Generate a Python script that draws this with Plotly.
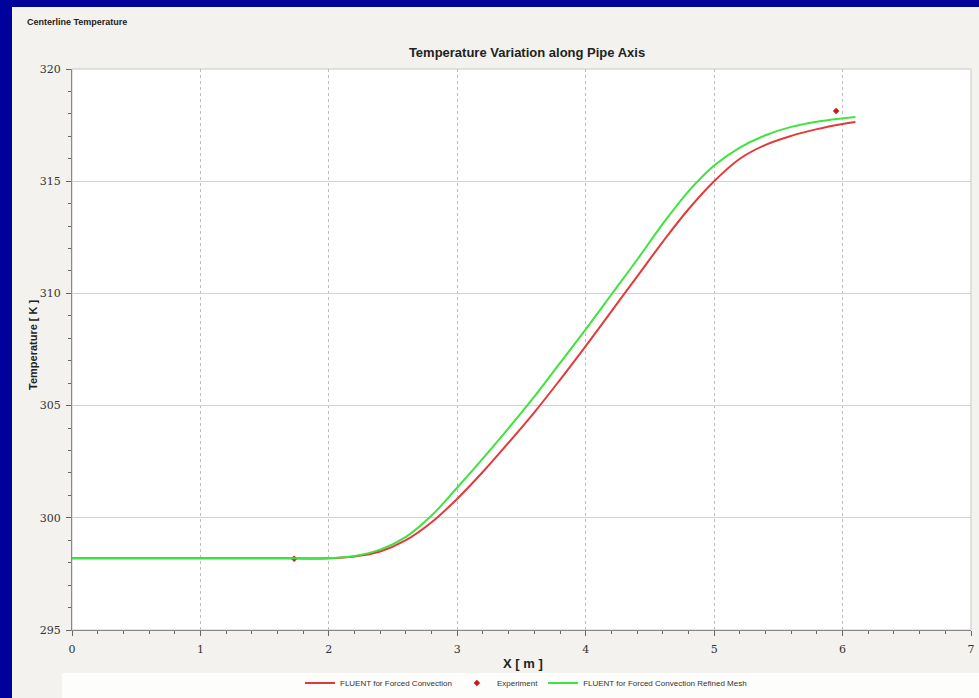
import plotly.graph_objects as go

# ---- data ----
x_fluent = [0.0, 0.5, 1.0, 1.5, 2.0, 2.2, 2.4, 2.6, 2.8, 3.0, 3.2, 3.4, 3.6, 3.8, 4.0,
            4.2, 4.4, 4.6, 4.8, 5.0, 5.2, 5.4, 5.6, 5.8, 6.0, 6.1]
t_fluent = [298.2, 298.2, 298.2, 298.2, 298.2, 298.28, 298.5, 299.0, 299.8, 300.85, 302.05,
            303.35, 304.7, 306.15, 307.65, 309.2, 310.75, 312.3, 313.75, 315.0, 316.0,
            316.62, 317.02, 317.32, 317.55, 317.64]
x_refined = [0.0, 0.5, 1.0, 1.5, 2.0, 2.2, 2.4, 2.6, 2.8, 3.0, 3.2, 3.4, 3.6, 3.8, 4.0,
             4.2, 4.4, 4.6, 4.8, 5.0, 5.2, 5.4, 5.6, 5.8, 6.0, 6.1]
t_refined = [298.2, 298.2, 298.2, 298.2, 298.2, 298.3, 298.58, 299.15, 300.1, 301.35, 302.65,
             304.0, 305.4, 306.9, 308.4, 309.95, 311.5, 313.1, 314.55, 315.7, 316.5,
             317.05, 317.42, 317.65, 317.8, 317.86]
x_exp = [1.73, 5.95]
t_exp = [298.18, 318.13]

x_ticks = [0, 1, 2, 3, 4, 5, 6, 7]
y_ticks = [295, 300, 305, 310, 315, 320]

# ---- geometry helpers (pixels -> paper) ----
W, H = 979, 698
L, R, T, B = 72, 8, 69, 68
PW, PH = W - L - R, H - T - B
def px(x): return (x - L) / PW
def py(y): return (H - B - y) / PH

fig = go.Figure()
fig.add_trace(go.Scatter(x=x_fluent, y=t_fluent, mode="lines", name="FLUENT for Forced Convection",
                         line=dict(color="#e23a3a", width=2, shape="spline")))
fig.add_trace(go.Scatter(x=x_exp, y=t_exp, mode="markers", name="Experiment",
                         marker=dict(color="#d01818", size=5, symbol="diamond")))
fig.add_trace(go.Scatter(x=x_refined, y=t_refined, mode="lines",
                         name="FLUENT for Forced Convection Refined Mesh",
                         line=dict(color="#3ee43e", width=2, shape="spline")))

BLUE = "#00009c"
shapes = [
    # blue frame on the left and top
    dict(type="rect", xref="paper", yref="paper", x0=px(-2), x1=px(12), y0=py(H + 2), y1=py(-2),
         fillcolor=BLUE, line=dict(width=0), layer="below"),
    dict(type="rect", xref="paper", yref="paper", x0=px(-2), x1=px(W + 2), y0=py(7), y1=py(-2),
         fillcolor=BLUE, line=dict(width=0), layer="below"),
    # legend band
    dict(type="rect", xref="paper", yref="paper", x0=px(62), x1=px(W + 2), y0=py(673), y1=py(H + 2),
         fillcolor="#fdfdfc", line=dict(width=0), layer="below"),
    # plot area
    dict(type="rect", xref="paper", yref="paper", x0=0, x1=1, y0=0, y1=1,
         fillcolor="white", line=dict(color="#c8c8c8", width=1), layer="below"),
]

tickfont = dict(family="DejaVu Serif", size=11, color="#333333")
fig.update_layout(
    width=W, height=H, autosize=False,
    margin=dict(l=L, r=R, t=T, b=B, pad=0, autoexpand=False),
    paper_bgcolor="#f4f2ee",
    plot_bgcolor="rgba(0,0,0,0)",
    shapes=shapes,
    showlegend=True,
    legend=dict(orientation="h", x=0.505, xanchor="center", y=py(683), yanchor="middle",
                font=dict(family="Liberation Sans", size=8, color="#333333"),
                bgcolor="rgba(0,0,0,0)", itemwidth=30, tracegroupgap=0),
    title=dict(text="<b>Temperature Variation along Pipe Axis</b>", x=px(527), xanchor="center",
               xref="paper", y=1 - 52 / H, yanchor="middle",
               font=dict(family="Liberation Sans", size=13, color="#222222")),
    xaxis=dict(range=[0, 7], tickvals=x_ticks, ticktext=[str(v) for v in x_ticks],
               showgrid=True, gridcolor="#bdbdbd", griddash="dot", gridwidth=1,
               zeroline=False, showline=True, linecolor="#888888", linewidth=1,
               ticks="outside", ticklen=5, tickcolor="#666666", ticklabelstandoff=4,
               tickfont=tickfont,
               minor=dict(dtick=0.2, ticks="outside", ticklen=3, tickcolor="#666666", showgrid=False)),
    yaxis=dict(range=[295, 320], tickvals=y_ticks, ticktext=[str(v) for v in y_ticks],
               showgrid=True, gridcolor="#d2d2d2", gridwidth=1,
               zeroline=False, showline=True, linecolor="#888888", linewidth=1,
               ticks="outside", ticklen=5, tickcolor="#666666", ticklabelstandoff=3,
               tickfont=tickfont,
               minor=dict(dtick=1, ticks="outside", ticklen=3, tickcolor="#666666", showgrid=False)),
    annotations=[
        dict(text="<b>Centerline Temperature</b>", xref="paper", yref="paper", x=px(25), y=py(22),
             xanchor="left", yanchor="middle", showarrow=False,
             font=dict(family="Liberation Sans", size=9, color="#222222")),
        dict(text="<b>Temperature [ K ]</b>", xref="paper", yref="paper", x=px(33), y=py(345),
             xanchor="center", yanchor="middle", textangle=-90, showarrow=False,
             font=dict(family="Liberation Sans", size=11, color="#222222")),
        dict(text="<b>X [ m ]</b>", xref="paper", yref="paper", x=px(523), y=py(663),
             xanchor="center", yanchor="middle", showarrow=False,
             font=dict(family="Liberation Sans", size=13, color="#222222")),
    ],
)

fig.write_html("out.html", config={"displayModeBar": False},
               post_script="document.body.style.margin='0';document.body.style.overflow='hidden';")
